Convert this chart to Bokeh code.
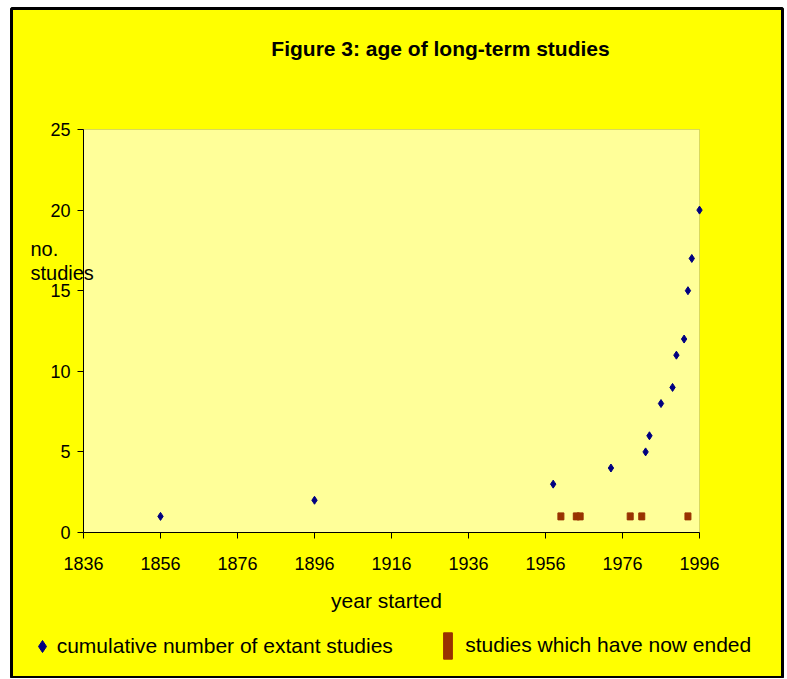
from bokeh.plotting import figure
from bokeh.models import Range1d, FixedTicker, Label, Legend, LegendItem, ColumnDataSource, BoxAnnotation
from bokeh.core.properties import value
from bokeh.embed import file_html
from bokeh.resources import INLINE

# ---- data ----
extant_years = [1856, 1896, 1958, 1973, 1982, 1983, 1986, 1989, 1990, 1992, 1993, 1994, 1996]
extant_counts = [1, 2, 3, 4, 5, 6, 8, 9, 11, 12, 15, 17, 20]
ended_years = [1960, 1964, 1965, 1978, 1981, 1993]
ended_level = [1, 1, 1, 1, 1, 1]
x_ticks = [1836, 1856, 1876, 1896, 1916, 1936, 1956, 1976, 1996]
y_ticks = [0, 5, 10, 15, 20, 25]

title_text = "Figure 3: age of long-term studies"
x_label = "year started"
y_label_lines = ["no.", "studies"]
series1_name = "cumulative number of extant studies"
series2_name = "studies which have now ended"

FONT = "Liberation Sans"

# ---- layout (pixels) ----
W, H = 785, 678
MB_L, MB_R, MB_T, MB_B = 11, 3, 8, 1
FX0, FX1 = MB_L, W - MB_R          # frame (outer chart box) in canvas px
FY0, FY1 = MB_T, H - MB_B
PX0, PX1 = 83, 699                  # plot area in canvas px
PY0, PY1 = 129, 532

xmin, xmax = x_ticks[0], x_ticks[-1]
ymin, ymax = y_ticks[0], y_ticks[-1]
kx = (PX1 - PX0) / (xmax - xmin)
ky = (PY1 - PY0) / (ymax - ymin)
x_range = Range1d(xmin - (PX0 - FX0) / kx, xmax + (FX1 - PX1) / kx)
y_range = Range1d(ymin - (FY1 - PY1) / ky, ymax + (PY0 - FY0) / ky)

p = figure(width=W, height=H, output_backend="svg", toolbar_location=None,
           x_range=x_range, y_range=y_range,
           min_border_left=MB_L, min_border_right=MB_R, min_border_top=MB_T, min_border_bottom=MB_B,
           background_fill_color="#FFFF00", border_fill_color="white")
p.title.text = ""
p.outline_line_color = "black"
p.outline_line_width = 3
p.xgrid.visible = False
p.ygrid.visible = False

# plot area
p.add_layout(BoxAnnotation(left=xmin, right=xmax, bottom=ymin, top=ymax,
                           fill_color="#FFFF99", fill_alpha=1,
                           line_color="#808080", line_width=1, level="underlay"))

for ax, ticks, standoff, loc, bounds in ((p.xaxis[0], x_ticks, 18, ymin, (xmin, xmax)),
                                         (p.yaxis[0], y_ticks, 7, xmin, (ymin, ymax))):
    ax.fixed_location = loc
    ax.bounds = bounds
    ax.ticker = FixedTicker(ticks=ticks, minor_ticks=[])
    ax.axis_line_color = "black"
    ax.major_tick_line_color = "black"
    ax.major_tick_out = 6
    ax.major_tick_in = 0
    ax.minor_tick_out = 0
    ax.minor_tick_in = 0
    ax.major_label_standoff = standoff
    ax.major_label_text_font = FONT
    ax.major_label_text_font_size = "18px"
    ax.major_label_text_color = "black"

src1 = ColumnDataSource(dict(x=extant_years, y=extant_counts))
src2 = ColumnDataSource(dict(x=ended_years, y=ended_level))

r_ext = p.scatter("x", "y", source=src1, marker="diamond", size=8,
                  fill_color="#000080", line_color="#000080")
r_end = p.rect("x", "y", source=src2, width=6, height=7,
               width_units="screen", height_units="screen",
               fill_color="#993300", line_color="#993300")

LABEL_DY = 8  # empirical correction of screen-unit label placement

def lab(text, cx, cy, size="21px", bold=False, align="left"):
    # cx, cy: canvas pixel position (baseline)
    p.add_layout(Label(x=cx - FX0, y=FY1 - cy + LABEL_DY, x_units="screen", y_units="screen", text=text,
                       text_font=FONT, text_font_size=size,
                       text_font_style="bold" if bold else "normal",
                       text_align=align, text_baseline="alphabetic", text_color="black"))

lab(title_text, 440, 56, bold=True, align="center")
lab(x_label, 386, 608, align="center")
lab(y_label_lines[0], 30, 256, size="20px")
lab(y_label_lines[1], 30, 280, size="20px")

common = dict(orientation="horizontal", padding=0, margin=0, spacing=0,
              background_fill_alpha=0, border_line_alpha=0,
              label_text_font=FONT, label_text_font_size="21px", label_text_color="black")

def legend_at(item_label, renderer, gcx, gcy, gw, gh, standoff):
    left = gcx - gw / 2
    bottom = gcy + gh / 2
    return Legend(items=[LegendItem(label=value(item_label), renderers=[renderer])],
                  location=(left - FX0, FY1 - bottom), glyph_width=gw, glyph_height=gh,
                  label_standoff=standoff, **common)

p.add_layout(legend_at(series1_name, r_ext, 41.7, 645.7, 30, 30, -3))
p.add_layout(legend_at(series2_name, r_end, 447.7, 645.0, 11, 33, 12))

open("out.html", "w").write(file_html(p, INLINE))
